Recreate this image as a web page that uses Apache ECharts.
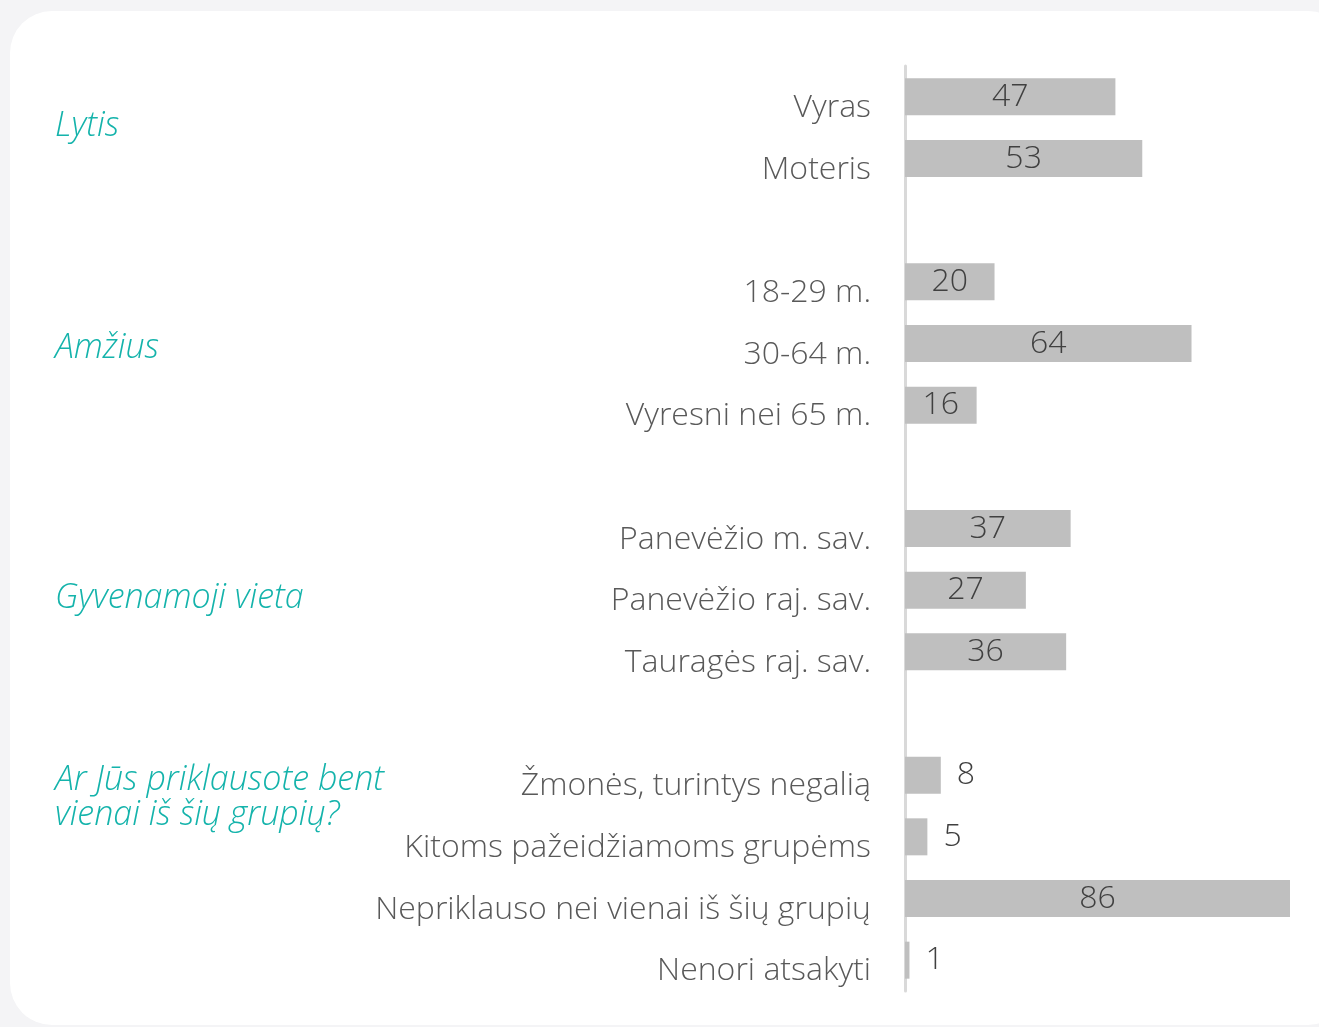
<!DOCTYPE html>
<html>
<head>
<meta charset="utf-8">
<script src="https://cdn.jsdelivr.net/npm/echarts@6/dist/echarts.min.js"></script>
<style>
  html, body { margin: 0; padding: 0; background: #f4f4f6; }
  .card {
    position: absolute; left: 10px; top: 11px; width: 1340px; height: 1014px;
    background: #ffffff; border-radius: 42px;
  }
  #chart { position: absolute; left: 0; top: 0; width: 1319px; height: 1027px; }
</style>
</head>
<body>
<div class="card"></div>
<div id="chart"></div>
<script>
// categories top to bottom, '' = spacer row between groups
const categories = [
  'Vyras', 'Moteris', '',
  '18-29 m.', '30-64 m.', 'Vyresni nei 65 m.', '',
  'Panevėžio m. sav.', 'Panevėžio raj. sav.', 'Tauragės raj. sav.', '',
  'Žmonės, turintys negalią', 'Kitoms pažeidžiamoms grupėms',
  'Nepriklauso nei vienai iš šių grupių', 'Nenori atsakyti'
];
const values = [47, 53, null, 20, 64, 16, null, 37, 27, 36, null, 8, 5, 86, 1];

const groupNames = ['Lytis', 'Amžius', 'Gyvenamoji vieta', 'Ar Jūs priklausote bent\nvienai iš šių grupių?'];
const groupTops = [109, 331, 581, 763];

const font = "'Open Sans', 'Segoe UI', sans-serif";

const chart = echarts.init(document.getElementById('chart'));

const data = values.map(v => {
  if (v == null) return null;
  const small = v < 10;
  return {
    value: v,
    label: { position: small ? 'right' : 'inside', distance: small ? 16 : 5 }
  };
});

chart.setOption({
  animation: false,
  grid: { left: 905, right: 29, top: 66, bottom: 36, containLabel: false },
  xAxis: {
    type: 'value', min: 0, max: 86,
    show: false
  },
  yAxis: {
    type: 'category',
    inverse: true,
    data: categories,
    axisLine: { show: true, lineStyle: { color: '#d9d9d9', width: 3 } },
    axisTick: { show: false },
    axisLabel: {
      margin: 34,
      color: '#595959',
      fontFamily: font,
      fontWeight: 300,
      fontSize: 32,
      verticalAlign: 'top',
      lineHeight: 22
    }
  },
  series: [{
    type: 'bar',
    data: data,
    barWidth: 37,
    itemStyle: { color: '#bfbfbf' },
    label: {
      show: true,
      color: '#404040',
      fontFamily: font,
      fontWeight: 300,
      fontSize: 32,
      padding: [3, 0, 0, 0]
    }
  }],
  graphic: groupNames.map((name, i) => ({
    type: 'text',
    left: 55,
    top: groupTops[i],
    style: {
      text: name,
      fill: '#14b3ab',
      font: 'italic 300 34px ' + font,
      lineHeight: 35
    }
  }))
});
</script>
</body>
</html>
